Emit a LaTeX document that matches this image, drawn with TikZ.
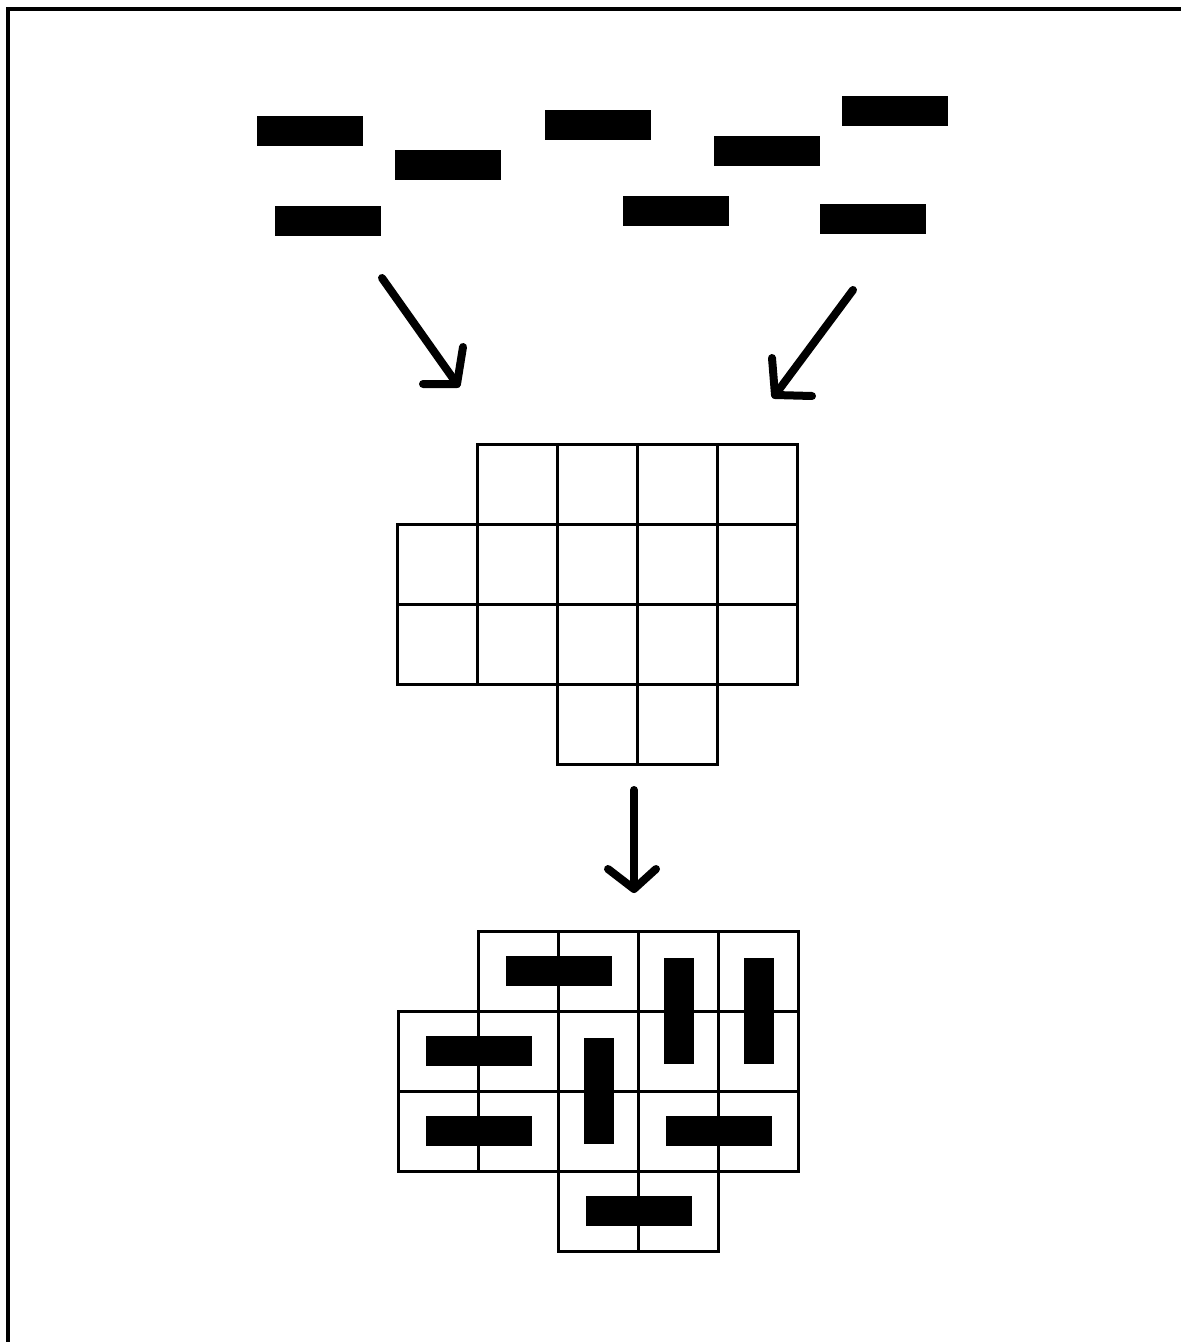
\documentclass[tikz,border=0pt]{standalone}
\usetikzlibrary{calc}
\begin{document}
\begin{tikzpicture}[x=0.5pt,y=-0.5pt,
  cell/.style={draw, line width=1.5pt, minimum size=40pt, inner sep=0pt, outer sep=0pt},
  hbar/.style={fill=black, minimum width=53pt, minimum height=15pt, inner sep=0pt, outer sep=0pt},
  vbar/.style={fill=black, minimum width=15pt, minimum height=53pt, inner sep=0pt, outer sep=0pt},
  stroke/.style={line width=4pt, line cap=round, line join=round}]
\useasboundingbox (0,0) rectangle (1181,1342);
% frame
\draw[line width=2pt] (8,1342) -- (8,9) -- (1181,9);
% loose pieces
\node[hbar] (p1) at (310,131) {};
\node[hbar] (p2) at (448,165) {};
\node[hbar] (p3) at (328,221) {};
\node[hbar] (p4) at (598,125) {};
\node[hbar] (p5) at (766.5,151) {};
\node[hbar] (p6) at (895,111) {};
\node[hbar] (p7) at (676,211) {};
\node[hbar] (p8) at (873,219) {};
% empty board
\foreach \c/\r in {1/0,2/0,3/0,4/0,0/1,1/1,2/1,3/1,4/1,0/2,1/2,2/2,3/2,4/2,2/3,3/3}
  \node[cell] (g-\c-\r) at ({437+80*\c},{484+80*\r}) {};
% tiled board
\foreach \c/\r in {1/0,2/0,3/0,4/0,0/1,1/1,2/1,3/1,4/1,0/2,1/2,2/2,3/2,4/2,2/3,3/3}
  \node[cell] (h-\c-\r) at ({438.5+80*\c},{971+80*\r}) {};
\node[hbar] (d1) at ($(h-1-0)!0.5!(h-2-0)$) {};
\node[vbar] (d2) at ($(h-3-0)!0.5!(h-3-1)$) {};
\node[vbar] (d3) at ($(h-4-0)!0.5!(h-4-1)$) {};
\node[hbar] (d4) at ($(h-0-1)!0.5!(h-1-1)$) {};
\node[vbar] (d5) at ($(h-2-1)!0.5!(h-2-2)$) {};
\node[hbar] (d6) at ($(h-0-2)!0.5!(h-1-2)$) {};
\node[hbar] (d7) at ($(h-3-2)!0.5!(h-4-2)$) {};
\node[hbar] (d8) at ($(h-2-3)!0.5!(h-3-3)$) {};
% arrows (hand-drawn style)
\coordinate (aLs) at (382,278);
\coordinate (aLt) at (457,384);
\coordinate (aLa) at (423,384);
\coordinate (aLb) at (463,347);
\draw[stroke] (aLs) -- (aLt);
\draw[stroke] (aLa) -- (aLt) -- (aLb);
\coordinate (aRs) at (853,290);
\coordinate (aRt) at (775,395);
\coordinate (aRa) at (812,396);
\coordinate (aRb) at (772,358);
\draw[stroke] (aRs) -- (aRt);
\draw[stroke] (aRa) -- (aRt) -- (aRb);
\coordinate (aDs) at (634,790);
\coordinate (aDt) at (634,889);
\coordinate (aDa) at (608,869);
\coordinate (aDb) at (656,869);
\draw[stroke] (aDs) -- (aDt);
\draw[stroke] (aDa) -- (aDt) -- (aDb);
\end{tikzpicture}
\end{document}
